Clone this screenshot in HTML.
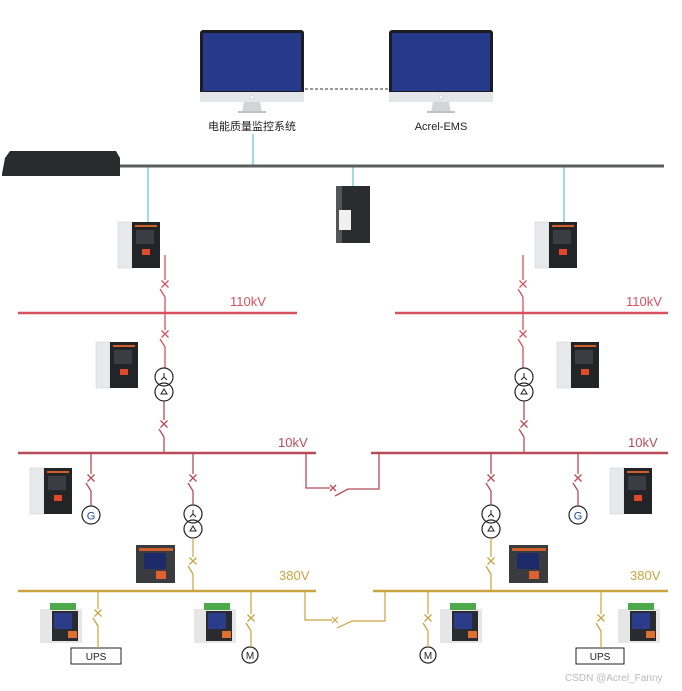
<!DOCTYPE html><html><head><meta charset="utf-8"><style>
html,body{margin:0;padding:0;background:#fff;width:682px;height:691px;overflow:hidden}
svg{display:block}
text{font-family:"Liberation Sans","Noto Sans CJK SC",sans-serif}
</style></head><body>
<svg width="682" height="691" viewBox="0 0 682 691" xmlns="http://www.w3.org/2000/svg">
<defs>
<g id="brk" fill="none" stroke-width="1.3">
<path d="M-3.5,-3.5L3.5,3.5M3.5,-3.5L-3.5,3.5M-5,5L0,13"/>
</g>
<g id="mon">
<rect x="0" y="0" width="104" height="72" rx="3" fill="#1c1c22"/>
<rect x="3" y="3" width="98" height="58" fill="#263a8c"/>
<rect x="0" y="62" width="104" height="10" fill="#e4e6e9"/>
<circle cx="52" cy="67" r="2" fill="#fff" stroke="#bbb" stroke-width=".5"/>
<path d="M44,72L60,72L62,82L42,82Z" fill="#d2d4d7"/>
<rect x="38" y="81" width="28" height="2" fill="#bfc1c4"/>
</g>
<g id="relay">
<rect x="0" y="0" width="14" height="46" fill="#e8e9eb" stroke="#ccc" stroke-width=".5"/>
<rect x="14" y="0" width="28" height="46" fill="#222428"/>
<rect x="17" y="3" width="22" height="2" fill="#d0602a"/>
<rect x="18" y="8" width="18" height="14" fill="#3a3d44"/>
<rect x="24" y="27" width="8" height="6" fill="#e04a2a"/>
</g>
<g id="meter">
<rect x="0" y="0" width="39" height="38" fill="#3a3b3e"/>
<rect x="3" y="3" width="34" height="3" fill="#d0602a"/>
<rect x="8" y="8" width="22" height="16" fill="#1d2a6a"/>
<rect x="20" y="26" width="10" height="8" fill="#e06030"/>
</g>
<g id="small">
<rect x="0" y="6" width="42" height="34" fill="#e6e6e6"/>
<rect x="10" y="0" width="26" height="7" fill="#4caa4a"/>
<rect x="12" y="8" width="26" height="30" fill="#2a2b2e"/>
<rect x="14" y="10" width="18" height="16" fill="#2a3c8a"/>
<rect x="28" y="28" width="9" height="7" fill="#e07030"/>
</g>
</defs>

<!-- monitors -->
<use href="#mon" x="200" y="30"/>
<use href="#mon" x="389" y="30"/>
<line x1="305" y1="89" x2="389" y2="89" stroke="#333" stroke-width="1" stroke-dasharray="3,2"/>
<text x="252" y="130" font-size="11" text-anchor="middle" fill="#222">电能质量监控系统</text>
<text x="441" y="130" font-size="11" text-anchor="middle" fill="#222">Acrel-EMS</text>

<!-- network -->
<g stroke="#5cc8c8" stroke-width="1.2">
<line x1="253" y1="134" x2="253" y2="166"/>
<line x1="148" y1="166" x2="148" y2="222"/>
<line x1="353" y1="166" x2="353" y2="186"/>
<line x1="564" y1="166" x2="564" y2="222"/>
</g>
<line x1="118" y1="166" x2="664" y2="166" stroke="#5a5c5e" stroke-width="3"/>
<path d="M2,174L5,158L10,151L116,151L120,158L120,176L2,176Z" fill="#2a2b2d"/>
<rect x="336" y="186" width="34" height="57" fill="#2b2c2e"/>
<rect x="336" y="186" width="6" height="57" fill="#555"/>
<rect x="339" y="210" width="12" height="20" fill="#f0f0f0"/>
<use href="#relay" x="118" y="222"/>
<use href="#relay" x="535" y="222"/>

<!-- 110kV -->
<g stroke="#d9505e" fill="none" stroke-width="1.3">
<line x1="165" y1="255" x2="165" y2="280"/><use href="#brk" x="165" y="284" stroke="#d9505e"/><line x1="165" y1="297" x2="165" y2="330"/>
<use href="#brk" x="165" y="334" stroke="#d9505e"/><line x1="165" y1="347" x2="165" y2="368"/>
<line x1="523" y1="255" x2="523" y2="280"/><use href="#brk" x="523" y="284" stroke="#d9505e"/><line x1="523" y1="297" x2="523" y2="330"/>
<use href="#brk" x="523" y="334" stroke="#d9505e"/><line x1="523" y1="347" x2="523" y2="368"/>
</g>
<line x1="18" y1="313" x2="297" y2="313" stroke="#d9505e" stroke-width="2.5"/>
<line x1="395" y1="313" x2="668" y2="313" stroke="#d9505e" stroke-width="2.5"/>
<text x="230" y="306" font-size="13" fill="#d9505e">110kV</text>
<text x="626" y="306" font-size="13" fill="#d9505e">110kV</text>
<use href="#relay" x="96" y="342"/>
<use href="#relay" x="557" y="342"/>

<!-- transformers -->
<g fill="none" stroke="#222" stroke-width="1.2">
<circle cx="164" cy="377" r="9"/><circle cx="164" cy="392" r="9"/>
<circle cx="524" cy="377" r="9"/><circle cx="524" cy="392" r="9"/>
<circle cx="193" cy="514" r="9"/><circle cx="193" cy="529" r="9"/>
<circle cx="491" cy="514" r="9"/><circle cx="491" cy="529" r="9"/>
<circle cx="91" cy="515" r="9"/><circle cx="578" cy="515" r="9"/>
<circle cx="250" cy="655" r="8"/><circle cx="428" cy="655" r="8"/>
<path d="M164,377v-4M164,377l-3,3M164,377l3,3M524,377v-4M524,377l-3,3M524,377l3,3M193,514v-4M193,514l-3,3M193,514l3,3M491,514v-4M491,514l-3,3M491,514l3,3" stroke-width="1"/>
<path d="M164,389l-3,5h6zM524,389l-3,5h6zM193,526l-3,5h6zM491,526l-3,5h6z" stroke-width="1"/>
<rect x="71" y="648" width="50" height="16" stroke-width="1"/>
<rect x="576" y="648" width="48" height="16" stroke-width="1"/>
</g>
<text x="91" y="519.5" font-size="11" text-anchor="middle" fill="#1a4a9a">G</text>
<text x="578" y="519.5" font-size="11" text-anchor="middle" fill="#1a4a9a">G</text>
<text x="250" y="659" font-size="10" text-anchor="middle" fill="#222">M</text>
<text x="428" y="659" font-size="10" text-anchor="middle" fill="#222">M</text>
<text x="96" y="660" font-size="10" text-anchor="middle" fill="#222">UPS</text>
<text x="600" y="660" font-size="10" text-anchor="middle" fill="#222">UPS</text>

<!-- 10kV -->
<g stroke="#b84b57" fill="none" stroke-width="1.3">
<line x1="164" y1="401" x2="164" y2="420"/><use href="#brk" x="164" y="424" stroke="#b84b57"/><line x1="164" y1="437" x2="164" y2="453"/>
<line x1="524" y1="401" x2="524" y2="420"/><use href="#brk" x="524" y="424" stroke="#b84b57"/><line x1="524" y1="437" x2="524" y2="453"/>
<line x1="91" y1="453" x2="91" y2="474"/><use href="#brk" x="91" y="478" stroke="#b84b57"/><line x1="91" y1="491" x2="91" y2="506"/>
<line x1="193" y1="453" x2="193" y2="474"/><use href="#brk" x="193" y="478" stroke="#b84b57"/><line x1="193" y1="491" x2="193" y2="505"/>
<line x1="491" y1="453" x2="491" y2="474"/><use href="#brk" x="491" y="478" stroke="#b84b57"/><line x1="491" y1="491" x2="491" y2="505"/>
<line x1="578" y1="453" x2="578" y2="474"/><use href="#brk" x="578" y="478" stroke="#b84b57"/><line x1="578" y1="491" x2="578" y2="506"/>
<path d="M306,453V488H330"/><path d="M330,485l6,6M336,485l-6,6M335,496L348,489H379V453"/>
</g>
<line x1="18" y1="453" x2="316" y2="453" stroke="#b84b57" stroke-width="2.5"/>
<line x1="371" y1="453" x2="668" y2="453" stroke="#b84b57" stroke-width="2.5"/>
<text x="278" y="447" font-size="13" fill="#b84b57">10kV</text>
<text x="628" y="447" font-size="13" fill="#b84b57">10kV</text>
<use href="#relay" x="30" y="468"/>
<use href="#relay" x="610" y="468"/>

<!-- 380V -->
<g stroke="#c9a540" fill="none" stroke-width="1.2">
<line x1="193" y1="538" x2="193" y2="557"/><use href="#brk" x="193" y="561" stroke="#c9a540"/><line x1="193" y1="574" x2="193" y2="591"/>
<line x1="491" y1="538" x2="491" y2="557"/><use href="#brk" x="491" y="561" stroke="#c9a540"/><line x1="491" y1="574" x2="491" y2="591"/>
<line x1="98" y1="591" x2="98" y2="609"/><use href="#brk" x="98" y="613" stroke="#c9a540"/><line x1="98" y1="626" x2="98" y2="648"/>
<line x1="251" y1="591" x2="251" y2="614"/><use href="#brk" x="251" y="618" stroke="#c9a540"/><line x1="251" y1="631" x2="251" y2="647"/>
<line x1="428" y1="591" x2="428" y2="614"/><use href="#brk" x="428" y="618" stroke="#c9a540"/><line x1="428" y1="631" x2="428" y2="647"/>
<line x1="601" y1="591" x2="601" y2="614"/><use href="#brk" x="601" y="618" stroke="#c9a540"/><line x1="601" y1="631" x2="601" y2="648"/>
<path d="M305,591V620H332"/><path d="M332,617l6,6M338,617l-6,6M337,628L352,621H385V591"/>
</g>
<line x1="18" y1="591" x2="316" y2="591" stroke="#c9a540" stroke-width="2.5"/>
<line x1="373" y1="591" x2="668" y2="591" stroke="#c9a540" stroke-width="2.5"/>
<text x="279" y="580" font-size="13" fill="#c9a540">380V</text>
<text x="630" y="580" font-size="13" fill="#c9a540">380V</text>
<use href="#meter" x="136" y="545"/>
<use href="#meter" x="509" y="545"/>
<use href="#small" x="40" y="603"/>
<use href="#small" x="194" y="603"/>
<use href="#small" x="440" y="603"/>
<use href="#small" x="618" y="603"/>

<text x="565" y="681" font-size="10" fill="#b8b8b8">CSDN @Acrel_Fanny</text>
</svg>
</body></html>
